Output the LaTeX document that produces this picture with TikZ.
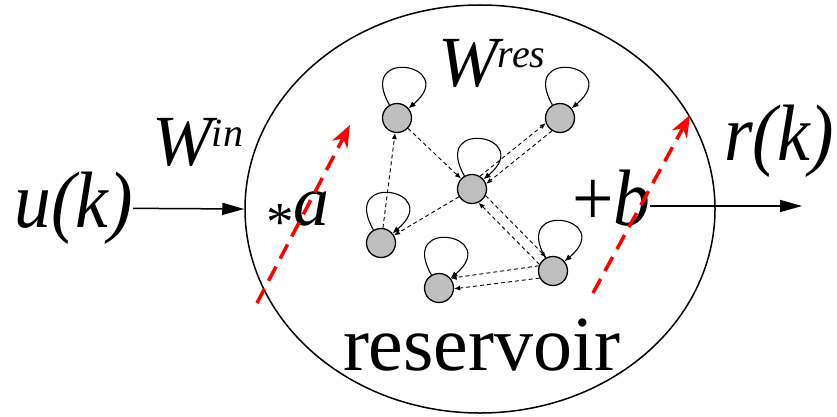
\documentclass[tikz,border=0pt]{standalone}
\usepackage{fontspec}
\newfontfamily\tnr{LiberationSerif}[Extension=.ttf, UprightFont=*-Regular, ItalicFont=*-Italic, BoldFont=*-Bold]
\usepackage{graphicx}
\usepackage{tikz}
\usetikzlibrary{calc,shapes,arrows.meta}

\newcommand{\bigfont}{\tnr\fontsize{80}{82}\selectfont}
\newcommand{\wfont}{\tnr\fontsize{72}{74}\selectfont}
\newcommand{\supfont}{\fontsize{40}{42}\selectfont}
\newcommand{\narrow}[1]{\scalebox{0.92}[1]{#1}}
\newcommand{\wsup}[1]{W\raisebox{19pt}{\supfont #1}}

\begin{document}
\begin{tikzpicture}[x=1pt, y=1pt,
    unit/.style={circle, draw, line width=1.3pt, fill=gray!50, minimum size=29pt, inner sep=0pt},
    selfloop/.style={-{Latex[length=7pt,width=6pt]}, line width=1.1pt},
    link/.style={-{Latex[length=6pt,width=5pt]}, dash pattern=on 4pt off 3pt, line width=0.9pt},
    bias/.style={draw=red, line width=3.5pt, dash pattern=on 16pt off 9pt, -{Stealth[length=22pt,width=17pt,inset=7pt]}},
    mainarrow/.style={line width=1.5pt, -{Triangle[length=22pt,width=12pt]}},
    label/.style={inner sep=0pt, outer sep=0pt}]
    \useasboundingbox (0,0) rectangle (837,-417);
    % Place nodes
    \node [ellipse, draw, line width=1.5pt, minimum width=470pt, minimum height=408pt] (res) at (480,-209) {};
    \node [label, anchor=base west, font=\tnr\fontsize{78}{80}\selectfont] (name) at (343,-370) {reservoir};
    \node [label, anchor=east, font=\bigfont\itshape] (uk) at (133,-208) {\narrow{u(k)}};
    \node [label, anchor=base west, font=\bigfont\itshape] (rk) at (724,-160) {\narrow{r(k)}};
    \node [label, anchor=base west, font=\wfont\itshape] (win) at (152,-165) {\wsup{in}};
    \node [label, anchor=base west, font=\wfont\itshape] (wres) at (438,-87) {\wsup{res}};
    \node [label, anchor=base west, font=\wfont] (sa) at (266,-225) {\raisebox{-15pt}{\fontsize{55}{57}\selectfont *}\textit{a}};
    \node [label, anchor=base west, font=\bigfont] (pb) at (572,-225) {\narrow{+\textit{b}}};
    \coordinate (rout) at (802,-206);

    % Reservoir units
    \node [unit] (n1) at (397,-118) {};
    \node [unit] (n2) at (560,-118) {};
    \node [unit] (n3) at (472,-189) {};
    \node [unit] (n4) at (381,-243) {};
    \node [unit] (n5) at (553,-271) {};
    \node [unit] (n6) at (439,-288) {};
    \foreach \n in {n1,n2,n3,n4,n5,n6}
        \path [draw, selfloop] (\n.120) .. controls +(120:68) and +(40:68) .. (\n.40);

    % Internal links
    \path [draw, link] (n1) -- (n3);
    \path [draw, link] (n3.58) -- (n2.200);
    \path [draw, link] (n2.238) -- (n3.20);
    \path [draw, link] (n3) -- (n4);
    \path [draw, link] (n4) -- (n1);
    \path [draw, link] (n3.334) -- (n5.116);
    \path [draw, link] (n5.154) -- (n3.296);
    \path [draw, link] (n5.160) -- (n6.40);
    \path [draw, link] (n5.208) -- (n6.357);

    % Input and output
    \path [draw, mainarrow] (uk) -- (res.west);
    \path [draw, mainarrow] (pb.east |- rout) -- (rout);

    % Scaling and shift
    \coordinate (a0) at (257,-303);
    \coordinate (a1) at (350,-125);
    \coordinate (b0) at (593,-293);
    \coordinate (b1) at (690,-115);
    \path [bias] (a0) -- (a1);
    \path [bias] (b0) -- (b1);
\end{tikzpicture}
\end{document}
